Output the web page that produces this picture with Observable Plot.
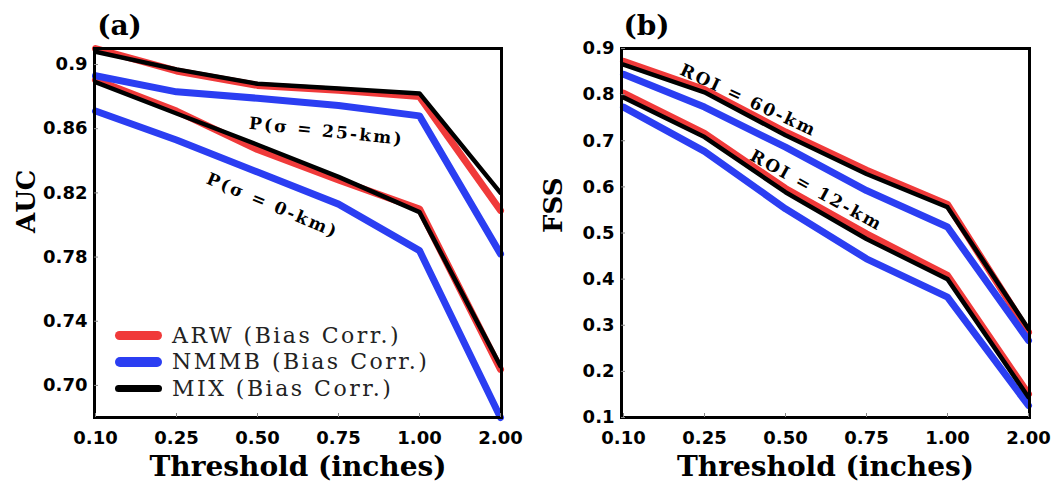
<!DOCTYPE html>
<html><head><meta charset="utf-8">
<script src="https://cdn.jsdelivr.net/npm/d3@7"></script>
<script src="https://cdn.jsdelivr.net/npm/@observablehq/plot@0.6"></script>
<style>
body{margin:0;background:#fff;}
#wrap{position:relative;width:1060px;height:482px;display:flex;background:#fff;}
.legend{position:absolute;left:115px;top:322px;font-family:"DejaVu Serif";font-size:22px;letter-spacing:2.5px;color:#222;}
.legend div{display:flex;align-items:center;height:26.5px;white-space:nowrap;}
.legend span.sw{display:inline-block;width:47px;border-radius:5px;margin-right:10px;}
</style></head><body><div id="wrap"></div>
<script>
// Categories
const thresholds = ["0.10","0.25","0.50","0.75","1.00","2.00"];
const models = ["ARW (Bias Corr.)","NMMB (Bias Corr.)","MIX (Bias Corr.)"];
const modelColors = ["#f03a3a","#2b3ef2","#000000"];
const modelWidths = [7,7,4.5];

// Panel (a) AUC
const aucArw25  = [0.910, 0.896, 0.887, 0.884, 0.880, 0.809];
const aucNmmb25 = [0.893, 0.883, 0.879, 0.8745, 0.868, 0.782];
const aucMix25  = [0.908, 0.897, 0.888, 0.885, 0.882, 0.820];
const aucArw0   = [0.8905, 0.871, 0.847, 0.828, 0.810, 0.710];
const aucNmmb0  = [0.871, 0.853, 0.833, 0.813, 0.784, 0.680];
const aucMix0   = [0.889, 0.8695, 0.850, 0.830, 0.808, 0.712];
const aucTicks = [0.70, 0.74, 0.78, 0.82, 0.86, 0.90];
const aucTickLabels = ["0.70","0.74","0.78","0.82","0.86","0.9"];

// Panel (b) FSS
const fssArw60  = [0.872, 0.811, 0.719, 0.636, 0.562, 0.285];
const fssNmmb60 = [0.844, 0.773, 0.686, 0.592, 0.513, 0.267];
const fssMix60  = [0.865, 0.805, 0.712, 0.628, 0.556, 0.292];
const fssArw12  = [0.803, 0.716, 0.5965, 0.498, 0.408, 0.151];
const fssNmmb12 = [0.773, 0.677, 0.5525, 0.444, 0.361, 0.126];
const fssMix12  = [0.794, 0.708, 0.5885, 0.487, 0.400, 0.144];
const fssTicks = [0.1,0.2,0.3,0.4,0.5,0.6,0.7,0.8,0.9];
const fssTickLabels = ["0.1","0.2","0.3","0.4","0.5","0.6","0.7","0.8","0.9"];

const annotA = [
  {label:"P(σ = 25-km)", x:"0.75", y:0.8583, rotate:6, dx:-12},
  {label:"P(σ = 0-km)",  x:"0.50", y:0.8121, rotate:23, dx:15}
];
const annotB = [
  {label:"ROI = 60-km", x:"0.50", y:0.7873, rotate:25, dx:-37},
  {label:"ROI = 12-km", x:"0.50", y:0.592,  rotate:29, dx:31}
];

function rows(values, group){ return thresholds.map((t,i)=>({threshold:t, value:values[i], group})); }

function panel({seriesByModel, yDomain, yTicks, yTickLabels, yLabel, tag, annots, marginLeft, marginRight}){
  const serif = "DejaVu Serif";
  const marks = [];
  seriesByModel.forEach((data, m) => {
    marks.push(Plot.line(data, {x:"threshold", y:"value", z:"group", stroke:modelColors[m],
      strokeWidth:modelWidths[m], strokeLinecap:"round", strokeLinejoin:"round"}));
  });
  marks.push(Plot.frame({stroke:"black", strokeWidth:3}));
  marks.push(Plot.axisX({ticks:thresholds, tickSize:-4, tickPadding:18, stroke:"#888", fill:"black", label:null}));
  marks.push(Plot.axisY({ticks:yTicks, tickFormat:d=>yTickLabels[yTicks.indexOf(d)], tickSize:-4, tickPadding:11, stroke:"#888", fill:"black", label:null}));
  marks.push(Plot.text([tag], {frameAnchor:"top-left", dx:25, dy:-33, fontFamily:serif, fontWeight:"bold", fontSize:28, textAnchor:"middle"}));
  marks.push(Plot.text([yLabel], {frameAnchor:"left", dx:-68, rotate:-90, fontFamily:serif, fontWeight:"bold", fontSize:26}));
  marks.push(Plot.text(["Threshold (inches)"], {frameAnchor:"bottom", dy:58, fontFamily:serif, fontWeight:"bold", fontSize:28}));
  annots.forEach(a => {
    marks.push(Plot.text([a], {x:"x", y:"y", text:"label", rotate:a.rotate, dx:a.dx, fontFamily:serif, fontWeight:"bold", fontSize:17}));
  });
  const svg = Plot.plot({
    width:530, height:482, marginLeft, marginRight, marginTop:48, marginBottom:65,
    style:{fontFamily:"DejaVu Sans", fontWeight:"bold", fontSize:"18px", color:"black", background:"white", overflow:"visible"},
    x:{type:"point", domain:thresholds, padding:0, label:null},
    y:{domain:yDomain, label:null},
    marks
  });
  d3.select(svg).selectAll("text").filter(function(){ const t=this.textContent; return t.startsWith("P(")||t.startsWith("ROI"); })
    .attr("letter-spacing","2.3px");
  return svg;
}

const wrap = document.getElementById("wrap");
wrap.appendChild(panel({
  seriesByModel:[
    [...rows(aucArw25,"25"), ...rows(aucArw0,"0")],
    [...rows(aucNmmb25,"25"), ...rows(aucNmmb0,"0")],
    [...rows(aucMix25,"25"), ...rows(aucMix0,"0")]
  ],
  yDomain:[0.68,0.91], yTicks:aucTicks, yTickLabels:aucTickLabels, yLabel:"AUC", tag:"(a)", annots:annotA,
  marginLeft:94, marginRight:29
}));
wrap.appendChild(panel({
  seriesByModel:[
    [...rows(fssArw60,"60"), ...rows(fssArw12,"12")],
    [...rows(fssNmmb60,"60"), ...rows(fssNmmb12,"12")],
    [...rows(fssMix60,"60"), ...rows(fssMix12,"12")]
  ],
  yDomain:[0.1,0.9], yTicks:fssTicks, yTickLabels:fssTickLabels, yLabel:"FSS", tag:"(b)", annots:annotB,
  marginLeft:91, marginRight:31
}));

// Legend (panel a)
const legend = document.createElement("div");
legend.className = "legend";
models.forEach((m,i)=>{
  const row = document.createElement("div");
  const sw = document.createElement("span");
  sw.className = "sw";
  sw.style.height = (modelWidths[i]+2.5)+"px";
  sw.style.background = modelColors[i];
  row.appendChild(sw);
  row.appendChild(document.createTextNode(m));
  legend.appendChild(row);
});
wrap.appendChild(legend);
</script></body></html>
